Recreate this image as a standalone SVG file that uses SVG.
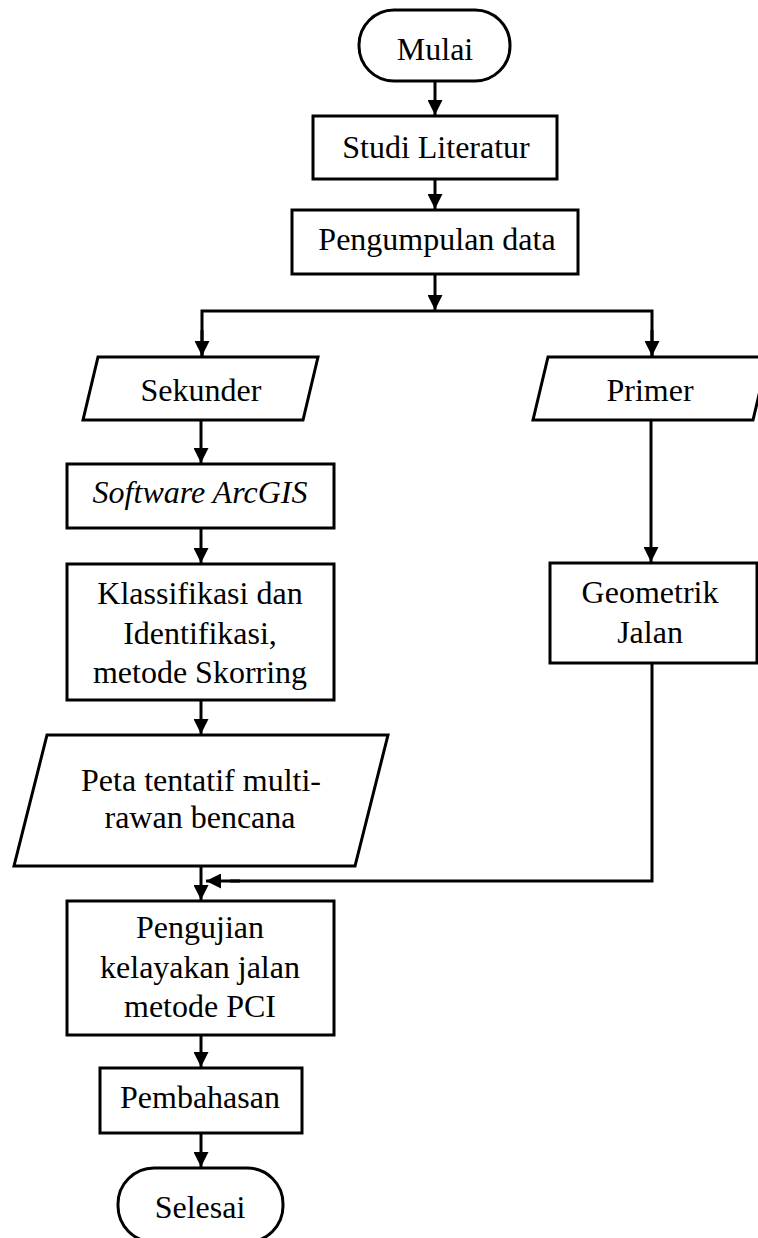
<svg xmlns="http://www.w3.org/2000/svg" width="758" height="1238" viewBox="0 0 758 1238">
<style>
.s{fill:#fff;stroke:#000;stroke-width:3}
.t{font-family:"Liberation Serif","Times New Roman",serif;font-size:32px;fill:#000;text-anchor:middle}
.i{font-style:italic}
.c{fill:none;stroke:#000;stroke-width:3}
</style>
<defs>
<marker id="a" viewBox="0 0 10 10" refX="10" refY="5" markerWidth="5" markerHeight="5" orient="auto" markerUnits="strokeWidth">
<path d="M0,0 L10,5 L0,10 z" fill="#000"/>
</marker>
</defs>
<rect width="758" height="1238" fill="#fff"/>
<g id="connectors">
<line class="c" x1="435" y1="81" x2="435" y2="115" marker-end="url(#a)"/>
<line class="c" x1="435" y1="179" x2="435" y2="209" marker-end="url(#a)"/>
<line class="c" x1="435" y1="274" x2="435" y2="310" marker-end="url(#a)"/>
<polyline class="c" points="202,356 202,311 652,311 652,356"/>
<line class="c" x1="202" y1="330" x2="202" y2="356" marker-end="url(#a)"/>
<line class="c" x1="652" y1="330" x2="652" y2="356" marker-end="url(#a)"/>
<line class="c" x1="201" y1="420" x2="201" y2="463" marker-end="url(#a)"/>
<line class="c" x1="201" y1="528" x2="201" y2="563" marker-end="url(#a)"/>
<line class="c" x1="651" y1="420" x2="651" y2="562" marker-end="url(#a)"/>
<line class="c" x1="201" y1="700" x2="201" y2="734" marker-end="url(#a)"/>
<line class="c" x1="201" y1="867" x2="201" y2="900" marker-end="url(#a)"/>
<polyline class="c" points="652,663 652,881 230,881"/>
<line class="c" x1="240" y1="881" x2="206" y2="881" marker-end="url(#a)"/>
<line class="c" x1="201" y1="1035" x2="201" y2="1067" marker-end="url(#a)"/>
<line class="c" x1="201" y1="1133" x2="201" y2="1167" marker-end="url(#a)"/>
</g>
<g id="mulai">
<rect class="s" x="359" y="10" width="151" height="71" rx="35" ry="35"/>
<text class="t" x="435" y="60">Mulai</text>
</g>
<g id="studi">
<rect class="s" x="313" y="116" width="244" height="63"/>
<text class="t" x="436" y="158">Studi Literatur</text>
</g>
<g id="pengumpulan">
<rect class="s" x="292" y="210" width="286" height="64"/>
<text class="t" x="437" y="250">Pengumpulan data</text>
</g>
<g id="sekunder">
<polygon class="s" points="98,357 318,357 303,420 83,420"/>
<text class="t" x="201" y="401">Sekunder</text>
</g>
<g id="primer">
<polygon class="s" points="548,357 768,357 753,420 533,420"/>
<text class="t" x="650" y="401">Primer</text>
</g>
<g id="software">
<rect class="s" x="67" y="464" width="267" height="64"/>
<text class="t i" x="200" y="503">Software ArcGIS</text>
</g>
<g id="klasifikasi">
<rect class="s" x="67" y="564" width="267" height="136"/>
<text class="t" x="200" y="604">Klassifikasi dan</text>
<text class="t" x="200" y="644">Identifikasi,</text>
<text class="t" x="200" y="683">metode Skorring</text>
</g>
<g id="geometrik">
<rect class="s" x="550" y="563" width="207" height="100"/>
<text class="t" x="650" y="603">Geometrik</text>
<text class="t" x="650" y="643">Jalan</text>
</g>
<g id="peta">
<polygon class="s" points="47,735 388,735 355,866 14,866"/>
<text class="t" x="201" y="791">Peta tentatif multi-</text>
<text class="t" x="200" y="828">rawan bencana</text>
</g>
<g id="pengujian">
<rect class="s" x="67" y="901" width="267" height="134"/>
<text class="t" x="200" y="938">Pengujian</text>
<text class="t" x="200" y="978">kelayakan jalan</text>
<text class="t" x="200" y="1017">metode PCI</text>
</g>
<g id="pembahasan">
<rect class="s" x="100" y="1068" width="202" height="65"/>
<text class="t" x="200" y="1108">Pembahasan</text>
</g>
<g id="selesai">
<rect class="s" x="118" y="1168" width="165" height="74" rx="36" ry="36"/>
<text class="t" x="200" y="1218">Selesai</text>
</g>
</svg>
